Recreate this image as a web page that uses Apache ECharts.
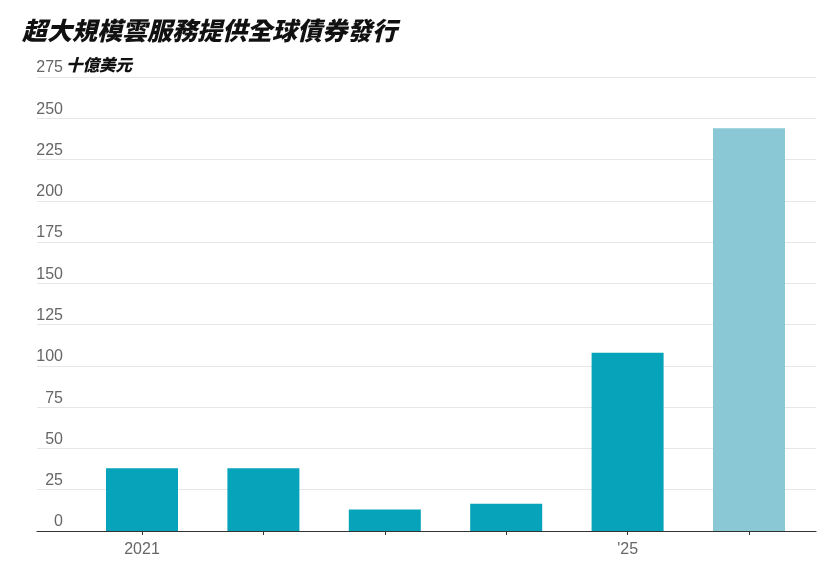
<!DOCTYPE html>
<html><head><meta charset="utf-8">
<script src="https://cdn.jsdelivr.net/npm/echarts@6/dist/echarts.min.js"></script>
<style>html,body{margin:0;padding:0;background:#fff}#c{width:831px;height:575px}</style>
</head><body><div id="c"></div>
<script>
const titleText = '超大規模雲服務提供全球債券發行';
const unitText = '十億美元';
const categories = ['2021','2022','2023','2024','2025','2026'];
const tickLabels = ['2021','','','',"'25",''];
const values = [38, 38, 13, 16.5, 108, 244];
const barColors = ['#06a3bb','#06a3bb','#06a3bb','#06a3bb','#06a3bb','#8ac8d6'];
const yTicks = [0,25,50,75,100,125,150,175,200,225,250,275];

const chart = echarts.init(document.getElementById('c'));
const fontNum = 'Liberation Sans, Roboto, sans-serif';
chart.setOption({
  animation: false,
  title: {
    text: titleText, left: 17, top: 13,
    textStyle: {fontFamily: 'Noto Sans CJK TC', fontWeight: 900, fontStyle: 'italic', fontSize: 25, color: '#111'}
  },
  graphic: [{
    type: 'text', left: 66, top: 56,
    style: {text: unitText, font: 'italic 900 16.5px "Noto Sans CJK TC"', fill: '#111'}
  }],
  grid: [
    {left: 81.3, right: 21.3, top: 77, bottom: 44},
    {left: 37, right: 15, top: 77, bottom: 44}
  ],
  xAxis: [
    {type: 'category', gridIndex: 0, data: categories,
     axisLine: {show: false},
     axisTick: {show: true, alignWithLabel: true, length: 4, lineStyle: {color: '#333'}},
     axisLabel: {margin: 11, color: '#666', fontSize: 16, fontFamily: fontNum, interval: 0,
       formatter: (v, i) => tickLabels[i]}},
    {type: 'value', gridIndex: 1, min: 0, max: 1,
     axisLine: {show: true, onZero: false, lineStyle: {color: '#333', width: 1.2}},
     axisTick: {show: false}, axisLabel: {show: false}, splitLine: {show: false}}
  ],
  yAxis: [
    {type: 'value', gridIndex: 0, min: 0, max: 275, interval: 25, show: false, splitLine: {show: false}},
    {type: 'value', gridIndex: 1, min: 0, max: 275, interval: 25,
     axisLine: {show: false}, axisTick: {show: false},
     splitLine: {lineStyle: {color: '#e6e6e6', width: 1}},
     axisLabel: {inside: true, align: 'right', margin: 26, verticalAlign: 'bottom', padding: [0,0,1,0],
       color: '#666', fontSize: 16, fontFamily: fontNum,
       formatter: v => yTicks.includes(v) ? String(v) : ''}}
  ],
  series: [{
    type: 'bar', xAxisIndex: 0, yAxisIndex: 0, barWidth: 72,
    data: values.map((v, i) => ({value: v, itemStyle: {color: barColors[i]}}))
  }]
});
</script></body></html>
